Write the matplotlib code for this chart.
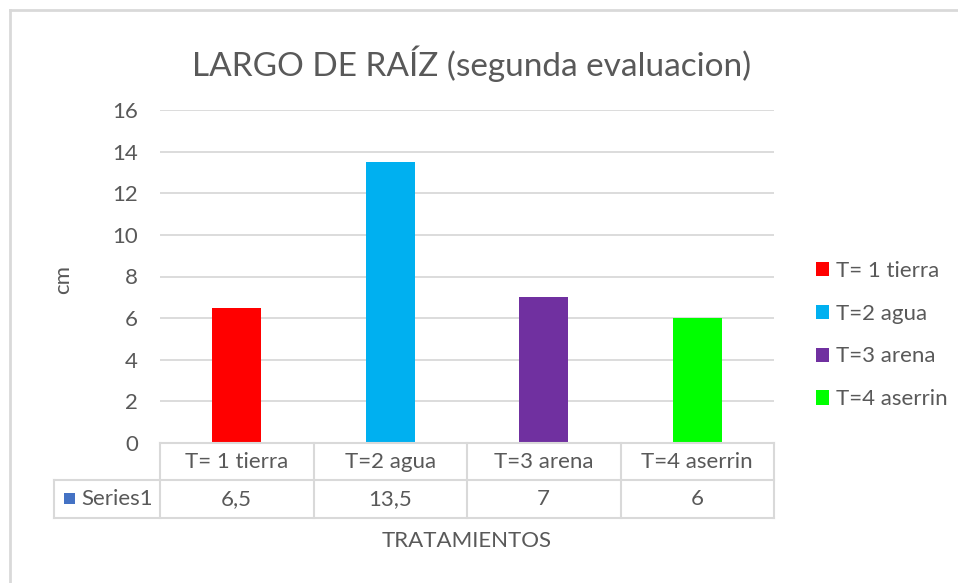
import matplotlib
matplotlib.use("Agg")
import matplotlib.pyplot as plt
from matplotlib.lines import Line2D
from matplotlib.patches import Rectangle
import matplotlib.transforms as mtransforms

categories = ["T= 1 tierra", "T=2 agua", "T=3 arena", "T=4 aserrin"]
values = [6.5, 13.5, 7, 6]
colors = ["#FF0000", "#00B0F0", "#7030A0", "#00FF00"]
yticks = [0, 2, 4, 6, 8, 10, 12, 14, 16]
series_name = "Series1"
title = "LARGO DE RAÍZ (segunda evaluacion)"
ylabel = "cm"
xlabel = "TRATAMIENTOS"

plt.rcParams['font.family'] = ['Lato', 'DejaVu Sans']
txt = "#595959"
grid = "#D9D9D9"
fs = 16

W, H = 958, 583
fig = plt.figure(figsize=(W / 100, H / 100), dpi=100)
L, R, T, B = 160, 774, 110, 443
ax = fig.add_axes([L / W, 1 - B / H, (R - L) / W, (B - T) / H])

x = list(range(len(categories)))
bars = ax.bar(x, values, width=0.32, color=colors, zorder=3)
ax.set_xlim(-0.5, len(categories) - 0.5)
ax.set_ylim(0, 16)
ax.set_yticks(yticks)
ax.set_yticklabels([str(t) for t in yticks])
ax.tick_params(axis='y', length=0, pad=16, labelsize=fs, labelcolor=txt)
ax.set_xticks([])
for s in ax.spines.values():
    s.set_visible(False)
ax.grid(axis='y', color=grid, linewidth=1.3, zorder=0)

# title
fig.text(472 / W, 1 - 64 / H, title, ha='center', va='center', fontsize=24, color=txt)
# y label
fig.text(63 / W, 1 - 280 / H, ylabel, ha='center', va='center', rotation=90, fontsize=fs, color=txt)
# x label
fig.text(467 / W, 1 - 541 / H, xlabel, ha='center', va='center', fontsize=fs, color=txt)

# data table
tr = mtransforms.blended_transform_factory(ax.transData, ax.transAxes)
ph = (B - T)
r1 = -37 / ph
r2 = -75 / ph
left_ext = -0.5 - (L - 54) / ((R - L) / len(categories))
lw = 1.5
for i in range(len(categories) + 1):
    ax.add_line(Line2D([i - 0.5, i - 0.5], [0, r2], transform=tr, color=grid, lw=lw, clip_on=False))
ax.add_line(Line2D([-0.5, len(categories) - 0.5], [0, 0], transform=tr, color=grid, lw=lw, clip_on=False, zorder=4))
ax.add_line(Line2D([left_ext, len(categories) - 0.5], [r1, r1], transform=tr, color=grid, lw=lw, clip_on=False))
ax.add_line(Line2D([left_ext, len(categories) - 0.5], [r2, r2], transform=tr, color=grid, lw=lw, clip_on=False))
ax.add_line(Line2D([left_ext, left_ext], [r1, r2], transform=tr, color=grid, lw=lw, clip_on=False))

def fmt(v):
    s = ("%g" % v)
    return s.replace('.', ',')

for i, (c, v) in enumerate(zip(categories, values)):
    ax.text(i, r1 / 2, c, transform=tr, ha='center', va='center', fontsize=fs, color=txt, clip_on=False)
    ax.text(i, (r1 + r2) / 2, fmt(v), transform=tr, ha='center', va='center', fontsize=fs, color=txt, clip_on=False)

fig.patches.append(Rectangle((64 / W, 1 - 504 / H), 11 / W, 11 / H, transform=fig.transFigure,
                             facecolor="#4472C4", edgecolor='none'))
fig.text(81 / W, 1 - 499 / H, series_name, ha='left', va='center', fontsize=fs, color=txt)

# legend
leg = ax.legend(bars, categories, loc='center left', bbox_to_anchor=(796 / W, 1 - 335 / H),
                bbox_transform=fig.transFigure, frameon=False, fontsize=fs,
                handlelength=0.6, handleheight=0.6, handletextpad=0.3, labelspacing=1.03)
for t in leg.get_texts():
    t.set_color(txt)

# chart border
fig.add_artist(Line2D([10 / W, 10 / W], [0, 1 - 10 / H], transform=fig.transFigure, color=grid, lw=2))
fig.add_artist(Line2D([10 / W, 1], [1 - 10 / H, 1 - 10 / H], transform=fig.transFigure, color=grid, lw=2))

fig.savefig("out.png", dpi=100)
